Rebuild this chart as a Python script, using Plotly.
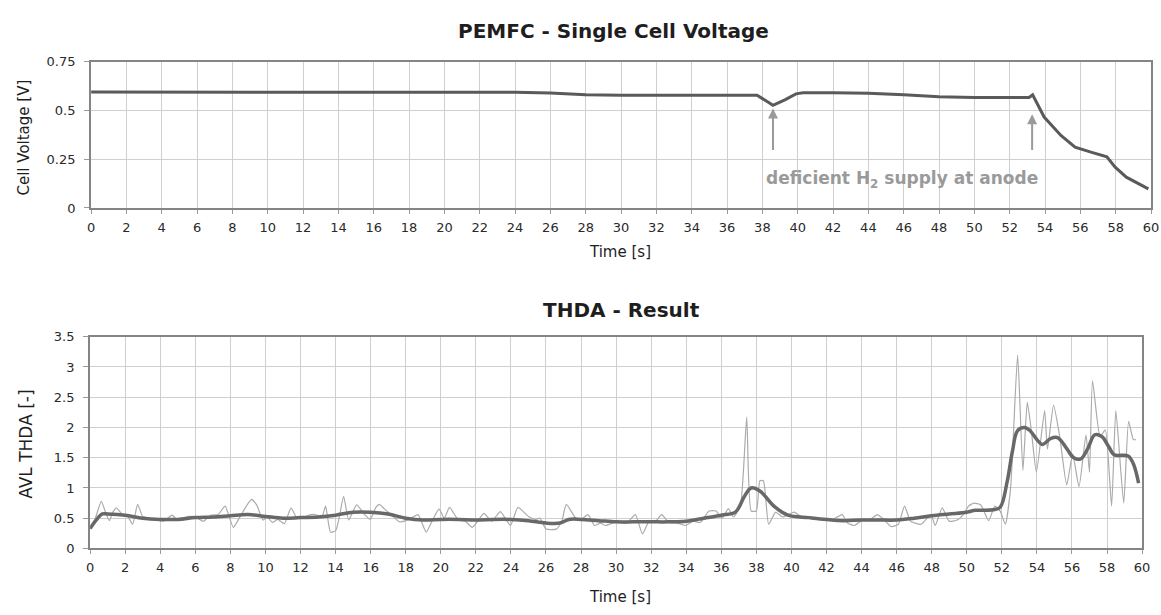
import plotly.graph_objects as go

# ---------------- data ----------------
# Top: PEMFC single cell voltage
volt_t = [0, 5, 10, 15, 20, 24, 26, 27.5, 28, 30, 34, 37.7, 38.6, 39.3, 39.9, 40.3, 42, 44, 46, 48,
          50, 53.1, 53.3, 53.95, 54.9, 55.7, 56.6, 57.5, 57.97, 58.6, 59.85]
volt_v = [0.594, 0.594, 0.594, 0.594, 0.593, 0.593, 0.589, 0.584, 0.58, 0.578, 0.577, 0.578, 0.526,
          0.555, 0.585, 0.59, 0.59, 0.588, 0.58, 0.57, 0.566, 0.566, 0.58, 0.466, 0.372, 0.312,
          0.286, 0.262, 0.209, 0.158, 0.098]

# Bottom: THDA raw result
raw_t = [0, 0.3, 0.64, 0.9, 1.1, 1.3, 1.49, 1.86, 2.1, 2.43, 2.71, 3.0, 3.4, 3.8, 4.2, 4.68, 5.0,
         5.3, 5.62, 6.0, 6.47, 6.85, 7.3, 7.7, 8.17, 8.6, 9.2, 9.5, 9.86, 10.1, 10.4, 10.7, 11.08,
         11.46, 11.8, 12.2, 12.58, 12.95, 13.2, 13.43, 13.71, 14.0, 14.2, 14.46, 14.75, 15.2, 15.6,
         15.97, 16.3, 16.5, 16.8, 17.2, 17.66, 18.2, 18.7, 19.17, 19.5, 19.9, 20.2, 20.5, 21.0,
         21.4, 21.8, 22.1, 22.46, 22.9, 23.4, 23.97, 24.4, 25.0, 25.4, 25.66, 26.0, 26.6, 26.9,
         27.16, 27.7, 28.0, 28.4, 28.76, 29.1, 29.4, 30.0, 30.6, 31.1, 31.5, 31.9, 32.2, 32.6,
         33.0, 33.5, 33.95, 34.4, 34.8, 35.3, 35.7, 36.05, 36.4, 36.7, 37.1, 37.45, 37.7, 38.0,
         38.2, 38.4, 38.7, 39.1, 39.5, 40.15, 40.6, 41.2, 41.8, 42.3, 42.9, 43.2, 43.6, 44.0,
         44.5, 44.9, 45.3, 45.7, 46.1, 46.45, 46.8, 47.4, 47.95, 48.2, 48.6, 49.0, 49.45, 49.8,
         50.1, 50.4, 50.8, 51.25, 51.6, 51.9, 52.2, 52.5, 52.9, 53.2, 53.45, 53.7, 53.97, 54.44,
         54.6, 54.95, 55.3, 55.7, 56.04, 56.4, 56.8, 57.0, 57.17, 57.6, 57.9, 58.26, 58.5, 58.95,
         59.23, 59.5, 59.65]
raw_v = [0.32, 0.5, 0.78, 0.58, 0.46, 0.6, 0.67, 0.56, 0.55, 0.40, 0.73, 0.53, 0.5, 0.47, 0.45,
         0.55, 0.46, 0.5, 0.53, 0.52, 0.45, 0.55, 0.56, 0.70, 0.35, 0.55, 0.81, 0.72, 0.47, 0.52,
         0.43, 0.48, 0.41, 0.67, 0.5, 0.52, 0.56, 0.55, 0.5, 0.70, 0.27, 0.29, 0.5, 0.86, 0.47,
         0.72, 0.58, 0.48, 0.68, 0.73, 0.65, 0.55, 0.44, 0.48, 0.56, 0.27, 0.45, 0.65, 0.5, 0.68,
         0.47, 0.45, 0.35, 0.45, 0.58, 0.45, 0.61, 0.38, 0.68, 0.53, 0.48, 0.50, 0.32, 0.32, 0.45,
         0.73, 0.5, 0.48, 0.56, 0.38, 0.42, 0.38, 0.44, 0.42, 0.56, 0.24, 0.46, 0.43, 0.56, 0.43,
         0.42, 0.38, 0.45, 0.43, 0.62, 0.62, 0.5, 0.66, 0.52, 0.73, 2.17, 0.62, 0.62, 1.12, 1.12,
         0.40, 0.6, 0.52, 0.6, 0.52, 0.5, 0.48, 0.47, 0.56, 0.42, 0.38, 0.46, 0.48, 0.56, 0.47,
         0.36, 0.40, 0.70, 0.45, 0.40, 0.56, 0.38, 0.67, 0.45, 0.47, 0.56, 0.7, 0.75, 0.72, 0.46,
         0.70, 0.62, 0.40, 1.0, 3.2, 1.29, 2.42, 1.9, 1.26, 2.28, 1.64, 2.37, 1.85, 1.05, 1.56,
         1.02, 1.88, 1.26, 2.77, 1.85, 1.96, 0.70, 2.28, 0.75, 2.1, 1.8, 1.8]

# Bottom: THDA smoothed result
smooth_t = [0, 0.3, 0.7, 1, 2, 3, 4, 5, 6, 7, 8, 9, 10, 11, 12, 13, 14, 15, 16, 17, 18, 19, 20,
            21, 22, 23, 24, 25, 26, 26.8, 27.3, 28, 29, 30, 31, 32, 33, 34, 35, 36, 36.8, 37.3,
            37.7, 38.2, 39, 39.8, 41, 42, 43, 44, 45, 46, 47, 48, 49, 50, 50.5, 51.5, 51.9, 52.3,
            52.6, 52.9, 53.3, 53.6, 54, 54.3, 54.8, 55.2, 55.7, 56.1, 56.5, 56.9, 57.3, 57.7, 58.1,
            58.4, 59.2, 59.5, 59.8]
smooth_v = [0.33, 0.45, 0.57, 0.57, 0.55, 0.5, 0.48, 0.48, 0.51, 0.52, 0.54, 0.56, 0.53, 0.5,
            0.51, 0.52, 0.55, 0.6, 0.6, 0.57, 0.5, 0.47, 0.48, 0.48, 0.47, 0.48, 0.48, 0.46, 0.42,
            0.42, 0.48, 0.48, 0.46, 0.44, 0.44, 0.44, 0.44, 0.45, 0.5, 0.55, 0.6, 0.85, 1.0, 0.95,
            0.7, 0.55, 0.51, 0.48, 0.46, 0.47, 0.47, 0.47, 0.5, 0.54, 0.57, 0.6, 0.63, 0.64, 0.68,
            1.1, 1.6, 1.95, 2.0, 1.95, 1.8, 1.72, 1.82, 1.83, 1.65, 1.5, 1.48, 1.65, 1.88, 1.85,
            1.68, 1.55, 1.53, 1.4, 1.08]

x_ticks = list(range(0, 61, 2))
volt_ticks = [0, 0.25, 0.5, 0.75]
volt_tick_text = ["0", "0.25", "0.5", "0.75"]
thda_ticks = [0, 0.5, 1, 1.5, 2, 2.5, 3, 3.5]
thda_tick_text = ["0", "0.5", "1", "1.5", "2", "2.5", "3", "3.5"]

# ---------------- figure ----------------
W, H = 1161, 615
FONT = "DejaVu Sans"
GRID = "#cfcfcf"
FRAME = "#858585"
TICKC = "#2a2a2a"

fig = go.Figure()
fig.add_trace(go.Scatter(x=volt_t, y=volt_v, mode="lines", xaxis="x", yaxis="y",
                         line=dict(color="#5a5a5a", width=3), showlegend=False, hoverinfo="skip"))
fig.add_trace(go.Scatter(x=raw_t, y=raw_v, mode="lines", xaxis="x2", yaxis="y2",
                         line=dict(color="#ababab", width=1.2, shape="spline", smoothing=0.5),
                         showlegend=False, hoverinfo="skip"))
fig.add_trace(go.Scatter(x=smooth_t, y=smooth_v, mode="lines", xaxis="x2", yaxis="y2",
                         line=dict(color="#686868", width=3.5, shape="spline", smoothing=1.0),
                         showlegend=False, hoverinfo="skip"))


def xaxis(domain, anchor):
    return dict(domain=domain, anchor=anchor, range=[0, 60], tickvals=x_ticks,
                showgrid=True, gridcolor=GRID, gridwidth=1, zeroline=False,
                showline=True, linecolor=FRAME, linewidth=2, mirror=True,
                ticks="outside", ticklen=4, tickcolor="#999999", tickwidth=1,
                tickfont=dict(family=FONT, size=13, color=TICKC), ticklabelstandoff=2)


def yaxis(domain, anchor, rng, vals, text):
    return dict(domain=domain, anchor=anchor, range=rng, tickvals=vals, ticktext=text,
                showgrid=True, gridcolor=GRID, gridwidth=1, zeroline=False,
                showline=True, linecolor=FRAME, linewidth=2, mirror=True,
                ticks="outside", ticklen=5, tickcolor="#999999", tickwidth=1,
                tickfont=dict(family=FONT, size=13, color=TICKC), ticklabelstandoff=6)


top_dom_x = [88 / W, 1159 / W]
top_dom_y = [1 - 206 / H, 1 - 56 / H]
bot_dom_x = [87 / W, 1150 / W]
bot_dom_y = [1 - 555 / H, 1 - 338 / H]

annotations = [
    dict(text="PEMFC - Single Cell Voltage", x=616 / W, y=1 - 25 / H, xref="paper", yref="paper",
         showarrow=False, xanchor="center", yanchor="middle",
         font=dict(family="DejaVu Sans", size=20, color="#1e1e1e", weight="bold")),
    dict(text="THDA - Result", x=624 / W, y=1 - 311 / H, xref="paper", yref="paper",
         showarrow=False, xanchor="center", yanchor="middle",
         font=dict(family="DejaVu Sans", size=20, color="#1e1e1e", weight="bold")),
    dict(text="Time [s]", x=622 / W, y=1 - 251 / H, xref="paper", yref="paper",
         showarrow=False, xanchor="center", yanchor="middle",
         font=dict(family=FONT, size=15, color="#1e1e1e")),
    dict(text="Time [s]", x=622 / W, y=1 - 605 / H, xref="paper", yref="paper",
         showarrow=False, xanchor="center", yanchor="middle",
         font=dict(family=FONT, size=15, color="#1e1e1e")),
    dict(text="Cell Voltage [V]", x=20 / W, y=1 - 134 / H, xref="paper", yref="paper",
         showarrow=False, xanchor="center", yanchor="middle", textangle=-90,
         font=dict(family=FONT, size=15, color="#1e1e1e")),
    dict(text="AVL THDA [-]", x=22 / W, y=1 - 448 / H, xref="paper", yref="paper",
         showarrow=False, xanchor="center", yanchor="middle", textangle=-90,
         font=dict(family=FONT, size=17, color="#1e1e1e")),
    dict(text="deficient H<sub>2</sub> supply at anode", x=45.9, y=0.147, xref="x", yref="y",
         showarrow=False, xanchor="center", yanchor="middle",
         font=dict(family="DejaVu Sans", size=17, color="#9a9a9a", weight="bold")),
    dict(text="", x=38.6, y=0.51, ax=38.6, ay=0.29, xref="x", yref="y", axref="x", ayref="y",
         showarrow=True, arrowhead=2, arrowsize=1, arrowwidth=2, arrowcolor="#9a9a9a"),
    dict(text="", x=53.27, y=0.48, ax=53.27, ay=0.29, xref="x", yref="y", axref="x", ayref="y",
         showarrow=True, arrowhead=2, arrowsize=1, arrowwidth=2, arrowcolor="#9a9a9a"),
]

fig.update_layout(
    width=W, height=H, margin=dict(l=0, r=0, t=0, b=0),
    paper_bgcolor="white", plot_bgcolor="white", showlegend=False,
    xaxis=xaxis(top_dom_x, "y"),
    yaxis=yaxis(top_dom_y, "x", [0, 0.75], volt_ticks, volt_tick_text),
    xaxis2=xaxis(bot_dom_x, "y2"),
    yaxis2=yaxis(bot_dom_y, "x2", [0, 3.5], thda_ticks, thda_tick_text),
    annotations=annotations,
)

fig.write_html("out.html")
